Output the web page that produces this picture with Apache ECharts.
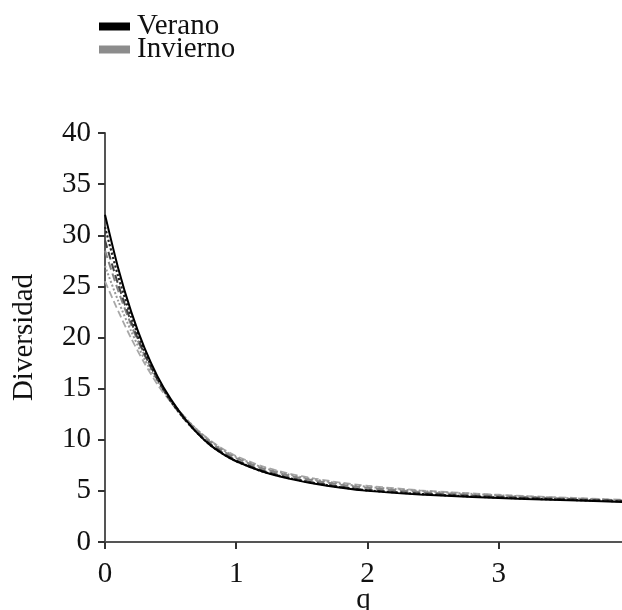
<!DOCTYPE html>
<html><head><meta charset="utf-8">
<script src="https://cdn.jsdelivr.net/npm/echarts@6/dist/echarts.min.js"></script>
<style>html,body{margin:0;padding:0;background:#fff;overflow:hidden}#c{width:622px;height:610px}</style>
</head><body><div id="c"></div>
<script>
var qValues = [0, 0.1, 0.2, 0.3, 0.4, 0.5, 0.6, 0.7, 0.8, 0.9, 1.0, 1.2, 1.4, 1.6, 1.8, 2.0, 2.4, 2.8, 3.2, 3.6, 4.0];
var verano1 = [32.0, 26.8, 22.5, 19.0, 16.2, 14.0, 12.2, 10.7, 9.5, 8.6, 7.9, 6.9, 6.2, 5.7, 5.3, 5.0, 4.65, 4.4, 4.2, 4.05, 3.9];
var verano2 = [30.8, 26.0, 22.0, 18.7, 16.0, 13.8, 12.1, 10.7, 9.5, 8.6, 7.9, 6.9, 6.25, 5.75, 5.35, 5.05, 4.7, 4.45, 4.25, 4.1, 3.95];
var verano3 = [29.5, 25.2, 21.5, 18.4, 15.9, 13.8, 12.1, 10.7, 9.6, 8.7, 8.0, 7.0, 6.3, 5.8, 5.4, 5.1, 4.75, 4.5, 4.3, 4.15, 4.0];
var invierno1 = [28.5, 24.6, 21.2, 18.3, 15.9, 13.9, 12.3, 10.9, 9.8, 8.9, 8.2, 7.2, 6.5, 6.0, 5.6, 5.3, 4.9, 4.6, 4.4, 4.2, 4.0];
var invierno2 = [27.0, 23.6, 20.6, 17.9, 15.7, 13.8, 12.3, 11.0, 9.9, 9.0, 8.3, 7.3, 6.6, 6.1, 5.7, 5.4, 5.0, 4.7, 4.45, 4.25, 4.05];
var invierno3 = [25.5, 22.6, 19.9, 17.5, 15.4, 13.7, 12.2, 11.0, 9.95, 9.1, 8.4, 7.4, 6.7, 6.2, 5.8, 5.5, 5.05, 4.75, 4.5, 4.3, 4.1];
var yTicks = [0, 5, 10, 15, 20, 25, 30, 35, 40];
var xTicks = [0, 1, 2, 3];

function pairs(ys){ return qValues.map(function(q,i){ return [q, ys[i]]; }); }
var FONT = '"Liberation Serif", "DejaVu Serif", serif';
function mk(name, data, color, type, width){
  return {name:name, type:'line', data:pairs(data), smooth:0.25, showSymbol:false, symbol:'none',
    lineStyle:{color:color, type:type, width:width}, itemStyle:{color:color}, z: name==='Verano'?3:2};
}
var chart = echarts.init(document.getElementById('c'));
chart.setOption({
  animation:false,
  backgroundColor:'#fff',
  textStyle:{fontFamily:FONT},
  legend:{
    orient:'vertical', left:99, top:12, padding:0, itemGap:-6, itemWidth:31, itemHeight:8, icon:'rect',
    textStyle:{fontFamily:FONT, fontSize:29, color:'#111', padding:[0,0,0,2]},
    data:[{name:'Verano', itemStyle:{color:'#000'}}, {name:'Invierno', itemStyle:{color:'#8c8c8c'}}]
  },
  grid:{left:105, top:133, bottom:68, right:0, containLabel:false, outerBoundsMode:'none'},
  xAxis:[{
    type:'value', min:0, max:3.94, interval:1, position:'bottom',
    name:'q', nameLocation:'middle', nameGap:44, nameMoveOverlap:false,
    nameTextStyle:{fontFamily:FONT, fontSize:29, color:'#111'},
    axisLine:{show:true, onZero:false, lineStyle:{color:'#555', width:2}},
    axisTick:{show:true, length:7, lineStyle:{color:'#333', width:2}},
    axisLabel:{fontFamily:FONT, fontSize:29, color:'#111', margin:18, showMaxLabel:false},
    splitLine:{show:false}
  },{
    type:'value', min:0, max:3.94, position:'top',
    axisLine:{show:true, lineStyle:{color:'#555', width:2}},
    axisTick:{show:false}, axisLabel:{show:false}, splitLine:{show:false}
  }],
  yAxis:{
    type:'value', min:0, max:40, interval:5,
    name:'Diversidad', nameLocation:'middle', nameGap:66, nameRotate:90, nameMoveOverlap:false,
    nameTextStyle:{fontFamily:FONT, fontSize:29, color:'#111'},
    axisLine:{show:true, lineStyle:{color:'#555', width:2}},
    axisTick:{show:true, length:7, lineStyle:{color:'#333', width:2}},
    axisLabel:{fontFamily:FONT, fontSize:29, color:'#111', margin:14},
    splitLine:{show:false}
  },
  series:[
    mk('Invierno', invierno3, '#a8a8a8', 'dashed', 1.8),
    mk('Invierno', invierno2, '#989898', 'dotted', 2),
    mk('Invierno', invierno1, '#858585', 'dashed', 2),
    mk('Verano', verano3, '#444', 'dashed', 2),
    mk('Verano', verano2, '#222', 'dotted', 2.2),
    mk('Verano', verano1, '#000', 'solid', 2)
  ]
});
</script></body></html>
